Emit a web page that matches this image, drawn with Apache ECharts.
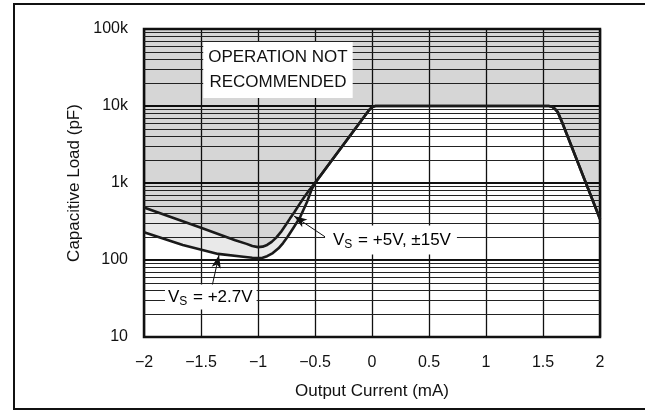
<!DOCTYPE html>
<html>
<head>
<meta charset="utf-8">
<script src="https://cdn.jsdelivr.net/npm/echarts@6/dist/echarts.min.js"></script>
<style>
  html, body { margin: 0; padding: 0; background: #fff; }
  #main { width: 645px; height: 411px; }
</style>
</head>
<body>
<div id="main"></div>
<script>
// x axis (output current, mA)
var xTicks = [-2, -1.5, -1, -0.5, 0, 0.5, 1, 1.5, 2];
// y axis (capacitive load, pF) decade labels
var yDecades = [10, 100, 1000, 10000, 100000];
var yDecadeLabels = ['10', '100', '1k', '10k', '100k'];
// minor log grid lines
var yMinor = [20, 30, 40, 50, 60, 70, 80, 90,
              200, 300, 400, 500, 600, 700, 800, 900,
              2000, 3000, 4000, 5000, 6000, 7000, 8000, 9000,
              20000, 30000, 40000, 50000, 60000, 70000, 80000, 90000];

// Vs = +5V, ±15V
var vs5Current = [-2, -1.5, -1.2, -1.1, -1.05, -1.0, -0.96, -0.92, -0.88, -0.84, -0.8, -0.76, -0.72, -0.68, -0.64, -0.6, -0.55, -0.5,
                  -0.03, 0, 0.03, 1.55, 1.58, 1.6, 1.63, 1.67, 2];
var vs5Load    = [480, 262, 180, 162, 152, 147, 149, 157, 172, 195, 230, 280, 345, 420, 520, 640, 810, 1000,
                  8700, 9700, 10000, 10000, 9800, 9300, 8300, 6000, 340];

// Vs = +2.7V
var vs27Current = [-2, -1.66, -1.35, -1.13, -1.05, -1.0, -0.96, -0.92, -0.87, -0.82, -0.78, -0.74, -0.69, -0.63, -0.57, -0.53, -0.5,
                   -0.03, 0, 0.03, 1.55, 1.58, 1.6, 1.63, 1.67, 2];
var vs27Load    = [230, 157, 120, 110, 107, 106, 107, 112, 123, 142, 166, 200, 260, 361, 566, 820, 1000,
                   8700, 9700, 10000, 10000, 9800, 9300, 8300, 6000, 340];

function pairs(xs, ys) {
    return xs.map(function (x, i) { return [x, ys[i]]; });
}

var FONT = 'Liberation Sans, Arial, sans-serif';
var chart = echarts.init(document.getElementById('main'));

var minorLines = yMinor.map(function (v) {
    return { yAxis: v, lineStyle: { color: '#222', width: 1, type: 'solid' } };
});

var arrows = [
    [{ coord: [-0.412, 200], symbol: 'none' }, { coord: [-0.684, 372], symbol: 'arrow' }],
    [{ coord: [-1.404, 45], symbol: 'none' }, { coord: [-1.342, 116], symbol: 'arrow' }]
];

var option = {
    animation: false,
    backgroundColor: '#fff',
    grid: {
        left: 144, right: 45, top: 29, bottom: 74,
        show: true, borderColor: '#111', borderWidth: 2.5, backgroundColor: 'transparent'
    },
    xAxis: {
        type: 'value', min: -2, max: 2, interval: 0.5,
        axisLine: { show: false },
        axisTick: { show: false },
        splitLine: { show: true, lineStyle: { color: '#111', width: 1.3 } },
        axisLabel: {
            margin: 18, color: '#111', fontSize: 16, fontFamily: FONT,
            formatter: function (v) {
                var i = xTicks.indexOf(v);
                return i < 0 ? '' : String(xTicks[i]).replace('-', '\u2212');
            }
        },
        name: 'Output Current (mA)', nameLocation: 'middle', nameGap: 46,
        nameTextStyle: { color: '#111', fontSize: 17, fontFamily: FONT }
    },
    yAxis: {
        type: 'log', logBase: 10, min: 10, max: 100000,
        axisLine: { show: false },
        axisTick: { show: false },
        splitLine: { show: true, lineStyle: { color: '#111', width: 2.2 } },
        axisLabel: {
            margin: 16, color: '#111', fontSize: 16, fontFamily: FONT,
            formatter: function (v) {
                var i = yDecades.indexOf(Math.round(v));
                return i < 0 ? '' : yDecadeLabels[i];
            }
        },
        name: 'Capacitive Load (pF)', nameLocation: 'middle', nameGap: 58, nameRotate: 90,
        nameTextStyle: { color: '#111', fontSize: 17, fontFamily: FONT }
    },
    series: [
        {
            name: 'Vs = +2.7V', type: 'line', data: pairs(vs27Current, vs27Load),
            showSymbol: false,
            lineStyle: { color: '#1a1a1a', width: 2.6, join: 'round' },
            areaStyle: { origin: 'end', color: 'rgba(0,0,0,0.12)' },
            markLine: {
                silent: true, symbol: ['none', 'none'], label: { show: false },
                data: minorLines
            }
        },
        {
            name: 'Vs = +5V, ±15V', type: 'line', data: pairs(vs5Current, vs5Load),
            showSymbol: false,
            lineStyle: { color: '#1a1a1a', width: 2.6, join: 'round' },
            areaStyle: { origin: 'end', color: 'rgba(0,0,0,0.11)' },
            markLine: {
                silent: true, symbolSize: [7, 13], label: { show: false },
                lineStyle: { color: '#111', width: 1, type: 'solid' },
                data: arrows
            }
        }
    ]
};
chart.setOption(option);

function px(x, y) { return chart.convertToPixel({ gridIndex: 0 }, [x, y]); }

var pOp = px(-0.825, 29400);
var p5 = px(-0.412, 182);
var p27 = px(-1.816, 33);

var subRich = {
    b: { fontSize: 17, fontFamily: FONT, color: '#111' },
    s: { fontSize: 12, fontFamily: FONT, color: '#111', verticalAlign: 'bottom', padding: [9, 1, 0, 0] }
};

chart.setOption({
    graphic: [
        // outer frame (left, top, bottom)
        { type: 'polyline', silent: true, z: 100,
          shape: { points: [[645, 4], [14, 4], [14, 409], [645, 409]] },
          style: { stroke: '#111', lineWidth: 2, fill: null } },
        { type: 'text', x: pOp[0], y: pOp[1], z: 100,
          style: {
              text: 'OPERATION NOT\nRECOMMENDED', align: 'center', verticalAlign: 'middle',
              fontSize: 17, lineHeight: 25, fontFamily: FONT, fill: '#111',
              backgroundColor: '#fff', padding: [3, 5, 3, 5]
          } },
        { type: 'text', x: p5[0], y: p5[1], z: 100,
          style: {
              text: '{b|V}{s|S}{b| = +5V, \u00b115V}', rich: subRich,
              align: 'left', verticalAlign: 'middle',
              backgroundColor: '#fff', padding: [4, 6, 4, 8]
          } },
        { type: 'text', x: p27[0], y: p27[1], z: 100,
          style: {
              text: '{b|V}{s|S}{b| = +2.7V}', rich: subRich,
              align: 'left', verticalAlign: 'middle',
              backgroundColor: '#fff', padding: [2, 4, 2, 3]
          } }
    ]
});
</script>
</body>
</html>
